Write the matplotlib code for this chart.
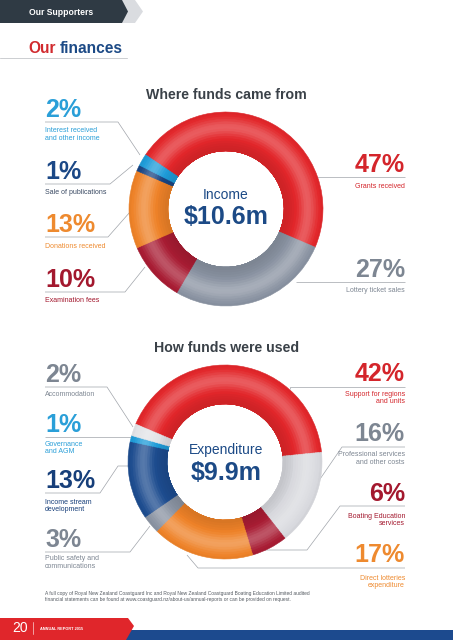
import numpy as np
import matplotlib.pyplot as plt
from matplotlib.colors import to_rgb
from matplotlib.patches import Polygon

plt.rcParams['font.family'] = ['Liberation Sans', 'DejaVu Sans']

W, H = 453, 640

# Where funds came from (clockwise, starting with the red slice)
income_labels = ['Grants received', 'Lottery ticket sales', 'Examination fees',
                 'Donations received', 'Sale of publications',
                 'Interest received\nand other income']
income_pct = [47, 27, 10, 13, 1, 2]
income_title = 'Income'
income_total = '$10.6m'

# How funds were used (clockwise, starting with the red slice)
expend_labels = ['Support for regions\nand units', 'Professional services\nand other costs',
                 'Boating Education\nservices', 'Direct lotteries\nexpenditure',
                 'Public safety and\ncommunications', 'Income stream\ndevelopment',
                 'Governance\nand AGM', 'Accommodation']
expend_pct = [42, 16, 6, 17, 3, 13, 1, 2]
expend_title = 'Expenditure'
expend_total = '$9.9m'

footnote = ['A full copy of Royal New Zealand Coastguard Inc and Royal New Zealand Coastguard Boating Education Limited audited',
            'financial statements can be found at www.coastguard.nz/about-us/annual-reports or can be provided on request.']

# colours
RED, GREY, DRED, ORANGE = '#E2262A', '#8A93A2', '#A81C33', '#EE8228'
DBLUE, LBLUE, LGREY = '#1D4C8F', '#1E9BD8', '#D8D9DE'
NAVY = '#1C4A86'
LINE = '#A0A4AA'

income_colors = [RED, GREY, DRED, ORANGE, '#1A4583', LBLUE]
income_num_col = ['#D4252B', '#7D8692', '#A3182E', '#EE8A2F', '#1B4886', '#2A9FD8']
income_txt_col = ['#D4252B', '#7D8692', '#A3182E', '#EE8A2F', '#3A4A63', '#2A9FD8']

expend_colors = [RED, LGREY, DRED, ORANGE, GREY, DBLUE, LBLUE, '#E2E3E7']
expend_num_col = ['#D4252B', '#7D8692', '#A3182E', '#EE8A2F', '#7D8692', '#173F7A', '#2A9FD8', '#7D8692']
expend_txt_col = expend_num_col

# layout: (x, baseline of number, y of first small line, align, connector)
income_layout = [
    (405, 172, 186, 'right', [(316, 177), (405, 177)]),
    (405, 277, 291, 'right', [(296, 282), (405, 282)]),
    (45, 287, 300, 'left', [(45, 292), (125, 292), (145, 267)]),
    (45, 232, 246, 'left', [(45, 237), (108, 237), (130, 212)]),
    (45, 179, 193, 'left', [(45, 184), (110, 184), (133, 165)]),
    (45, 117, 131, 'left', [(45, 122), (118, 122), (140, 155)]),
]
expend_layout = [
    (405, 381, 394, 'right', [(290, 389), (290, 387), (405, 387)]),
    (405, 441, 455, 'right', [(318, 482), (342, 447), (405, 447)]),
    (405, 501, 516, 'right', [(262, 550), (307, 550), (340, 506), (405, 506)]),
    (405, 562, 578, 'right', [(187, 555), (198, 568), (405, 568)]),
    (45, 547, 559, 'left', [(45, 552), (130, 552), (150, 526)]),
    (45, 488, 502, 'left', [(45, 493), (100, 493), (118, 466), (130, 466)]),
    (45, 432, 444, 'left', [(45, 437), (134, 437)]),
    (45, 382, 395, 'left', [(45, 387), (107, 387), (133, 427)]),
]


def mix(c, f):
    c = np.array(to_rgb(c))
    if f >= 0:
        return tuple(c + (1 - c) * f)
    return tuple(c * (1 + f))


def donut(cx, cy, r, vals, colors, start, rin=0.6):
    ax = fig.add_axes([(cx - r) / W, (H - cy - r) / H, 2 * r / W, 2 * r / H])
    n = 16
    for k in range(n):
        ro = 1 - k * (1 - rin) / n
        t = (ro - (1 - rin) / (2 * n) - rin) / (1 - rin)
        f = 0.26 * np.exp(-((t - 0.6) / 0.22) ** 2) - 0.10 * (1 - t) ** 3 - 0.05 * t ** 6
        cols = [mix(c, f) for c in colors]
        wedges, _ = ax.pie(vals, colors=cols, radius=ro, startangle=start,
                           counterclock=False,
                           wedgeprops=dict(width=ro - rin, linewidth=0.4))
        for w in wedges:
            w.set_edgecolor(w.get_facecolor())
    ax.set_xlim(-1, 1)
    ax.set_ylim(-1, 1)
    ax.set_aspect('equal')
    ax.axis('off')
    return ax


def labels(ax, pcts, names, lay, ncol, tcol):
    for v, name, (x, yb, yt, ha, pts), nc, tc in zip(pcts, names, lay, ncol, tcol):
        xs, ys = zip(*pts)
        ax.plot(xs, ys, color=LINE, lw=0.5, solid_capstyle='butt')
        ax.text(x, yb, f'{v}%', fontsize=18, fontweight='bold', color=nc,
                ha=ha, va='baseline')
        for i, line in enumerate(name.split('\n')):
            ax.text(x, yt + i * 7.7, line, fontsize=5, color=tc, ha=ha, va='center')


fig = plt.figure(figsize=(W / 100, H / 100), dpi=100)
ax = fig.add_axes([0, 0, 1, 1])
ax.set_xlim(0, W)
ax.set_ylim(H, 0)
ax.axis('off')

# header tab
ax.add_patch(Polygon([(118, 0), (135, 0), (143, 11.5), (135, 23), (118, 23)],
                     closed=True, color='#DADCE0', lw=0))
ax.add_patch(Polygon([(0, 0), (122, 0), (128, 11.5), (122, 23), (0, 23)],
                     closed=True, color='#2F3A44', lw=0))
ax.text(29, 12.5, 'Our Supporters', fontsize=6.2, fontweight='bold', color='white',
        ha='left', va='center')

# section title
ax.text(28, 53, 'Our', fontsize=11.2, fontweight='bold', color='#D12A2E', va='baseline')
ax.text(60, 53, 'finances', fontsize=11.2, fontweight='bold', color='#1C4A86', va='baseline')
ax.plot([0, 127], [57.5, 57.5], color='#B8BBBF', lw=0.5)

# chart titles
ax.text(226, 95, 'Where funds came from', fontsize=10.2, fontweight='bold',
        color='#3A4148', ha='center', va='center')
ax.text(226.5, 348, 'How funds were used', fontsize=10.2, fontweight='bold',
        color='#3A4148', ha='center', va='center')

labels(ax, income_pct, income_labels, income_layout, income_num_col, income_txt_col)
labels(ax, expend_pct, expend_labels, expend_layout, expend_num_col, expend_txt_col)

# centre texts
ax.text(226, 195, income_title, fontsize=10, color=NAVY, ha='center', va='center')
ax.text(226, 224, income_total, fontsize=18, fontweight='bold', color=NAVY,
        ha='center', va='baseline')
ax.text(226, 450, expend_title, fontsize=10, color=NAVY, ha='center', va='center')
ax.text(226, 480, expend_total, fontsize=18, fontweight='bold', color=NAVY,
        ha='center', va='baseline')

# footnote
for i, line in enumerate(footnote):
    ax.text(45, 593 + i * 6.2, line, fontsize=3.5, color='#555B62', va='center')

# footer band
ax.add_patch(Polygon([(120, 630), (W, 630), (W, H), (120, H)], closed=True,
                     color='#1C4A8E', lw=0))
ax.add_patch(Polygon([(0, 618), (128, 618), (134, 626), (126, H), (0, H)],
                     closed=True, color='#E0262B', lw=0))
ax.text(12, 628.5, '20', fontsize=10, color='white', va='center')
ax.plot([33, 33], [622, 634], color='white', lw=0.4)
ax.text(40, 628.5, 'ANNUAL REPORT 2015', fontsize=2.8, fontweight='bold',
        color='white', va='center')

donut(226, 209, 97, income_pct, income_colors, 146)
donut(225, 462, 97, expend_pct, expend_colors, 157)

fig.savefig('out.png', dpi=100)
